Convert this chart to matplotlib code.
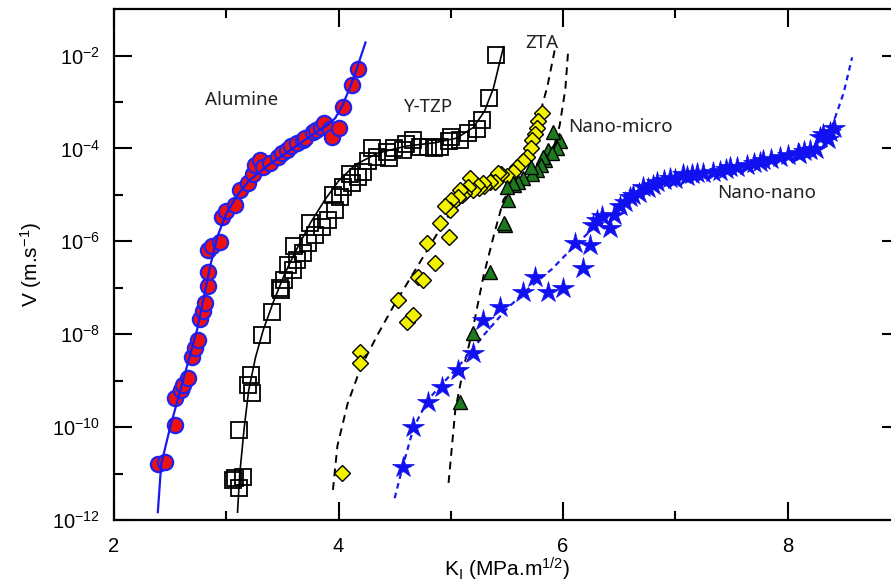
import numpy as np
import matplotlib
matplotlib.use("Agg")
import matplotlib.pyplot as plt
from matplotlib.ticker import FixedLocator, LogFormatterMathtext, NullFormatter

# ---------------- data (K in MPa.m^1/2, log10 of V in m/s) ----------------
alu_k = [2.39, 2.45, 2.54, 2.54, 2.60, 2.61, 2.66, 2.69, 2.72, 2.75, 2.77, 2.79, 2.81, 2.84, 2.84,
         2.84, 2.87, 2.94, 2.96, 3.00, 3.08, 3.12, 3.19, 3.24, 3.26, 3.30, 3.33, 3.39, 3.46, 3.50,
         3.54, 3.58, 3.63, 3.68, 3.70, 3.77, 3.80, 3.84, 3.87, 3.92, 3.94, 4.00, 4.04, 4.12, 4.17]
alu_v = [-10.79, -10.75, -9.95, -9.37, -9.20, -9.09, -8.94, -8.49, -8.29, -8.12, -7.67, -7.50, -7.32, -6.96, -6.66,
         -6.18, -6.10, -6.01, -5.47, -5.35, -5.21, -4.89, -4.74, -4.56, -4.35, -4.25, -4.39, -4.31, -4.18, -4.10,
         -4.03, -3.95, -3.88, -3.82, -3.77, -3.64, -3.60, -3.53, -3.45, -3.58, -3.75, -3.55, -3.10, -2.63, -2.30]
alu_fit_k = [2.39, 2.42, 2.50, 2.58, 2.66, 2.74, 2.80, 2.86, 2.92, 3.00, 3.10, 3.20, 3.35, 3.50, 3.65,
             3.80, 3.90, 3.97, 4.03, 4.10, 4.16, 4.24]
alu_fit_v = [-11.83, -10.80, -10.00, -9.30, -8.60, -7.90, -7.20, -6.50, -5.90, -5.40, -5.00, -4.70, -4.40,
             -4.15, -3.90, -3.65, -3.50, -3.35, -3.10, -2.70, -2.30, -1.72]

tzp_k = [5.40, 5.34, 5.28, 5.23, 5.15, 5.08, 5.00, 4.98, 4.90, 4.85, 4.80, 4.73, 4.66, 4.60, 4.57, 4.49,
         4.45, 4.43, 4.34, 4.30, 4.26, 4.22, 4.17, 4.12, 4.10, 4.04, 4.01, 3.97, 3.95, 3.91, 3.85, 3.79,
         3.75, 3.73, 3.68, 3.63, 3.60, 3.59, 3.55, 3.51, 3.48, 3.49, 3.41, 3.32, 3.22, 3.19, 3.23, 3.11,
         3.08, 3.15, 3.11, 3.06]
tzp_v = [-1.98, -2.91, -3.38, -3.59, -3.66, -3.81, -3.75, -3.85, -3.96, -4.00, -3.96, -3.96, -3.81, -3.90,
         -4.03, -3.98, -4.20, -4.07, -4.18, -4.00, -4.28, -4.50, -4.61, -4.74, -4.55, -4.82, -5.04, -5.32,
         -5.00, -5.53, -5.69, -5.86, -5.60, -6.03, -6.25, -6.40, -6.10, -6.61, -6.50, -6.83, -7.00, -7.04,
         -7.52, -8.01, -8.88, -9.09, -9.26, -10.06, -11.09, -11.07, -11.31, -11.14]
tzp_fit_k = [3.10, 3.12, 3.16, 3.20, 3.26, 3.33, 3.42, 3.52, 3.62, 3.75, 3.88, 4.00, 4.15, 4.35, 4.60,
             4.85, 5.05, 5.20, 5.30, 5.38, 5.43, 5.47]
tzp_fit_v = [-11.83, -11.00, -10.00, -9.20, -8.50, -7.90, -7.30, -6.70, -6.20, -5.60, -5.10, -4.70, -4.35,
             -4.10, -3.95, -3.88, -3.78, -3.55, -3.20, -2.70, -2.20, -1.81]

zta_k = [5.81, 5.78, 5.77, 5.75, 5.72, 5.71, 5.68, 5.64, 5.59, 5.55, 5.50, 5.45, 5.42, 5.39, 5.35, 5.30,
         5.29, 5.25, 5.23, 5.20, 5.17, 5.15, 5.12, 5.10, 5.08, 5.06, 5.01, 5.00, 4.99, 4.95, 4.90, 4.98,
         4.79, 4.86, 4.71, 4.75, 4.53, 4.61, 4.66, 4.19, 4.19, 4.03]
zta_v = [-3.23, -3.42, -3.55, -3.70, -3.81, -3.98, -4.18, -4.28, -4.41, -4.50, -4.60, -4.55, -4.52, -4.72,
         -4.72, -4.80, -4.74, -4.85, -4.78, -4.90, -4.63, -4.84, -4.95, -5.00, -4.89, -5.04, -5.17, -5.10,
         -5.32, -5.25, -5.60, -5.90, -6.03, -6.46, -6.76, -6.83, -7.26, -7.73, -7.58, -8.38, -8.62, -10.99]
zta_fit_k = [3.95, 3.99, 4.08, 4.20, 4.35, 4.50, 4.65, 4.80, 4.95, 5.10, 5.30, 5.50, 5.65, 5.74, 5.80,
             5.86, 5.93]
zta_fit_v = [-11.35, -10.40, -9.50, -8.70, -8.00, -7.35, -6.75, -6.15, -5.55, -5.05, -4.75, -4.55, -4.25,
             -3.80, -3.20, -2.67, -1.83]

nm_k = [5.96, 5.97, 5.91, 5.95, 5.87, 5.90, 5.84, 5.82, 5.80, 5.77, 5.72, 5.71, 5.64, 5.60, 5.56, 5.55,
        5.50, 5.51, 5.48, 5.47, 5.35, 5.20, 5.08]
nm_v = [-3.81, -3.85, -3.64, -3.98, -4.03, -4.09, -4.24, -4.18, -4.35, -4.46, -4.56, -4.39, -4.63, -4.72,
        -4.78, -4.74, -4.82, -5.10, -5.64, -5.60, -6.66, -7.97, -9.46]
nm_fit_k = [4.98, 5.04, 5.11, 5.20, 5.29, 5.38, 5.47, 5.55, 5.65, 5.80, 5.92, 5.97, 6.02, 6.045]
nm_fit_v = [-11.20, -9.63, -8.77, -7.84, -6.76, -5.90, -5.10, -4.85, -4.65, -4.35, -3.95, -3.50, -2.73, -1.91]

nn_k = [4.57, 4.66, 4.80, 4.92, 5.06, 5.20, 5.29, 5.44, 5.64, 5.75, 5.87, 6.00, 6.18, 6.11, 6.24, 6.27,
        6.30, 6.35, 6.42, 6.45, 6.51, 6.55, 6.60, 6.62, 6.68, 6.71, 6.76, 6.80, 6.84, 6.90, 6.95, 7.00,
        7.07, 7.10, 7.15, 7.19, 7.25, 7.34, 7.40, 7.45, 7.49, 7.55, 7.64, 7.70, 7.75, 7.78, 7.85, 7.93,
        8.00, 8.09, 8.10, 8.15, 8.20, 8.25, 8.29, 8.32, 8.36, 8.38, 8.41]
nn_v = [-10.86, -10.00, -9.46, -9.13, -8.77, -8.40, -7.69, -7.41, -7.09, -6.76, -7.09, -7.00, -6.57, -6.03,
        -6.07, -5.64, -5.55, -5.45, -5.71, -5.43, -5.25, -5.15, -5.04, -5.00, -4.95, -4.82, -4.85, -4.78,
        -4.72, -4.68, -4.63, -4.65, -4.56, -4.60, -4.55, -4.52, -4.52, -4.50, -4.48, -4.45, -4.41, -4.40,
        -4.35, -4.32, -4.30, -4.24, -4.22, -4.18, -4.15, -4.09, -4.12, -4.05, -4.03, -4.02, -3.75, -3.70,
        -3.80, -3.64, -3.55]
nn_fit_k = [4.50, 4.57, 4.67, 4.80, 4.95, 5.10, 5.30, 5.50, 5.70, 5.90, 6.10, 6.30, 6.50, 6.70, 7.00,
            7.30, 7.60, 7.90, 8.20, 8.30, 8.40, 8.50, 8.575]
nn_fit_v = [-11.53, -10.86, -10.00, -9.40, -9.00, -8.60, -8.00, -7.45, -7.00, -6.60, -6.10, -5.65, -5.25,
            -4.85, -4.62, -4.50, -4.38, -4.22, -4.05, -3.80, -3.50, -2.80, -2.04]

labels = ["Alumine", "Y-TZP", "ZTA", "Nano-micro", "Nano-nano"]
label_k = [3.14, 4.80, 5.81, 6.51, 7.81]
label_v = [-2.95, -3.10, -1.72, -3.53, -4.95]

y_major = [-12, -10, -8, -6, -4, -2]
y_minor = [-11, -9, -7, -5, -3]
x_major = [2, 4, 6, 8]
x_minor = [3, 5, 7]


def pw(a):
    return 10.0 ** np.asarray(a)


plt.rcParams['font.family'] = ['Liberation Sans', 'DejaVu Sans']
plt.rcParams['mathtext.fontset'] = 'custom'
plt.rcParams['mathtext.rm'] = 'Liberation Sans'
plt.rcParams['mathtext.it'] = 'Liberation Sans:italic'

fig = plt.figure(figsize=(8.91, 5.85), dpi=100)
ax = fig.add_axes([0.128, 0.111, 0.8819, 0.8735])

# Alumine
ax.plot(alu_k, pw(alu_v), 'o', ms=11, mfc='#ee1111', mec='#2222ee', mew=1.6, zorder=3)
ax.plot(alu_fit_k, pw(alu_fit_v), '-', color='#1a1aee', lw=1.6, zorder=4)
# Y-TZP
ax.plot(tzp_k, pw(tzp_v), 's', ms=11, mfc='none', mec='black', mew=1.3, zorder=3)
ax.plot(tzp_fit_k, pw(tzp_fit_v), '-', color='black', lw=1.2, zorder=4)
# ZTA
ax.plot(zta_fit_k, pw(zta_fit_v), '--', color='black', lw=1.4, dashes=(4, 3), zorder=2)
ax.plot(zta_k, pw(zta_v), 'D', ms=8, mfc='#f2f200', mec='black', mew=1.0, zorder=3)
# Nano-micro
ax.plot(nm_fit_k, pw(nm_fit_v), '--', color='black', lw=1.4, dashes=(4, 3), zorder=2)
ax.plot(nm_k, pw(nm_v), '^', ms=10, mfc='#1e7a1e', mec='black', mew=1.0, zorder=3)
# Nano-nano
ax.plot(nn_fit_k, pw(nn_fit_v), '--', color='#1a1aee', lw=1.6, dashes=(2.5, 2), zorder=2)
ax.plot(nn_k, pw(nn_v), '*', ms=16, mfc='#1010f0', mec='#1010f0', mew=0.5, zorder=3)

for t, kx, vy in zip(labels, label_k, label_v):
    ax.text(kx, 10 ** vy, t, fontsize=13.5, family=['Noto Sans', 'DejaVu Sans'],
            ha='center', va='center', color='#222222', zorder=5)

ax.set_yscale('log')
ax.set_xlim(2, 9)
ax.set_ylim(1e-12, 1e-1)
ax.yaxis.set_major_locator(FixedLocator(pw(y_major)))
ax.yaxis.set_minor_locator(FixedLocator(pw(y_minor)))
ax.yaxis.set_major_formatter(LogFormatterMathtext())
ax.yaxis.set_minor_formatter(NullFormatter())
ax.xaxis.set_major_locator(FixedLocator(x_major))
ax.xaxis.set_minor_locator(FixedLocator(x_minor))

ax.tick_params(which='both', direction='in', top=True, right=True, width=1.5, colors='black')
ax.tick_params(which='major', length=13, labelsize=14.5)
ax.tick_params(which='minor', length=6.5)
ax.tick_params(axis='y', which='major', pad=10)
ax.tick_params(axis='x', which='major', pad=12)
for s in ax.spines.values():
    s.set_linewidth(1.6)

ax.set_xlabel(r'K$_\mathregular{I}$ (MPa.m$^{\mathregular{1/2}}$)', fontsize=15, labelpad=0)
ax.set_ylabel(r'V (m.s$^{\mathregular{-1}}$)', fontsize=15, labelpad=6)

fig.savefig('out.png', dpi=100)
